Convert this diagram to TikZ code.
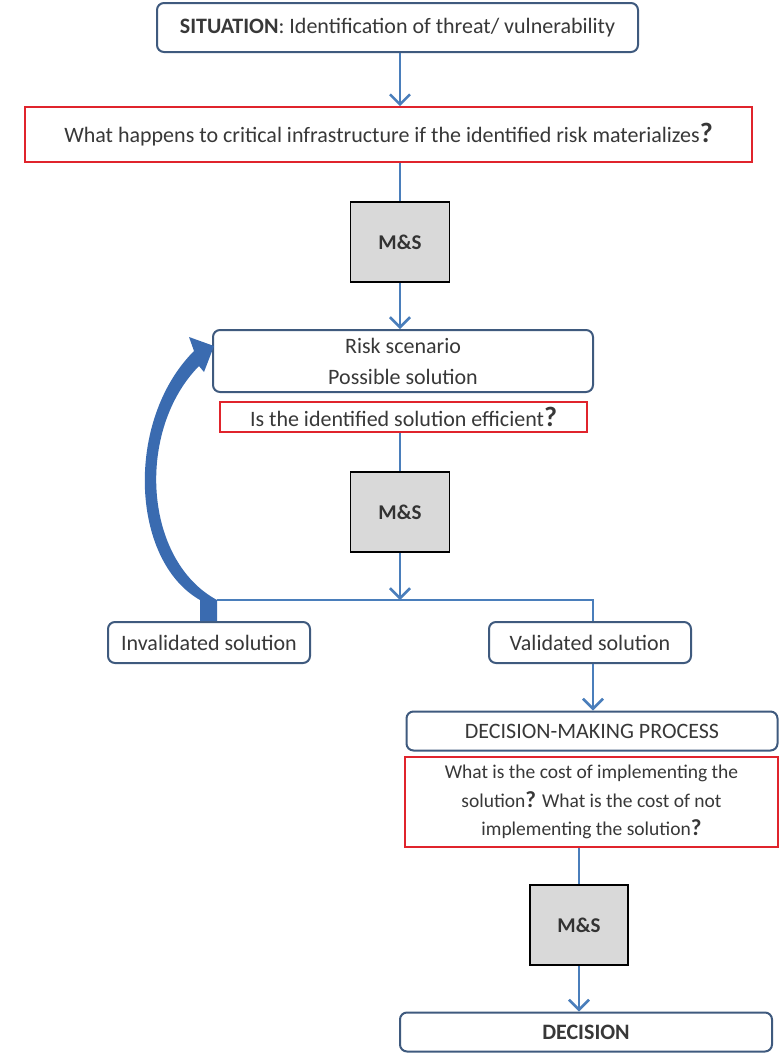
\documentclass[tikz,border=0pt]{standalone}
\usepackage{fontspec}
\setmainfont{Carlito}
\usetikzlibrary{arrows.meta,calc}
\definecolor{boxline}{HTML}{3F5A7E}
\definecolor{qred}{HTML}{E0242C}
\definecolor{arrblue}{HTML}{4A7EBB}
\definecolor{bigblue}{HTML}{3A6BB0}
\definecolor{msgray}{HTML}{D9D9D9}
\newcommand{\qm}{\textbf{\fontsize{28}{28}\selectfont ?}}
\newcommand{\qs}{\textbf{\fontsize{23}{23}\selectfont ?}}
\begin{document}
\begin{tikzpicture}[x=1pt,y=-1pt,
  font=\fontsize{22}{31}\selectfont,
  rbox/.style={draw=boxline,line width=2pt,rounded corners=7pt,fill=white,align=center,inner sep=0pt,text=black!78},
  qbox/.style={draw=qred,line width=1.6pt,fill=white,align=center,inner sep=0pt,text=black!78},
  msbox/.style={draw=black,line width=1.8pt,fill=msgray,inner sep=0pt,minimum width=99pt,minimum height=80pt,font=\fontsize{21}{24}\selectfont\bfseries,text=black!80},
  conn/.style={draw=arrblue,line width=2.6pt},
  arr/.style={conn,-{Straight Barb[length=10pt,width=20pt,line width=2.6pt]}}]
\useasboundingbox (0,0) rectangle (780,1055);

\node[rbox,minimum width=481pt,minimum height=49pt] (sit) at (397.5,27.5) {\textbf{SITUATION}: Identification of threat/ vulnerability};
\node[qbox,minimum width=727pt,minimum height=55pt] (q1) at (388.5,134.5) {What happens to critical infrastructure if the identified risk materializes\qm};
\node[msbox] (ms1) at (400,242) {M\&S};
\node[rbox,minimum width=380pt,minimum height=62pt] (risk) at (403,361) {Risk scenario\\Possible solution};
\node[qbox,minimum width=367pt,minimum height=30pt] (q2) at (403.5,417) {Is the identified solution efficient\qm};
\node[msbox] (ms2) at (400,512) {M\&S};
\node[rbox,minimum width=202pt,minimum height=41pt] (inv) at (209,642.5) {Invalidated solution};
\node[rbox,minimum width=202pt,minimum height=41pt] (val) at (590,642.5) {Validated solution};
\node[rbox,minimum width=371pt,minimum height=39pt] (dmp) at (592,731) {DECISION-MAKING PROCESS};
\node[qbox,minimum width=373pt,minimum height=90pt,font=\fontsize{19.5}{28.5}\selectfont] (q3) at (591.5,802) {What is the cost of implementing the\\solution\qs{} What is the cost of not\\implementing the solution\qs};
\node[msbox,minimum width=98pt] (ms3) at (579,925) {M\&S};
\node[rbox,minimum width=372pt,minimum height=39pt] (dec) at (586,1032) {\textbf{DECISION}};

\coordinate (jn) at (400,600);
\coordinate (jl) at (217,600);
\coordinate (jr) at (593,600);

\draw[arr] (sit.south -| ms1) -- (q1.north -| ms1);
\draw[conn] (q1.south -| ms1) -- (ms1.north);
\draw[arr] (ms1.south) -- (risk.north -| ms1);
\draw[conn] (q2.south -| ms2) -- (ms2.north);
\draw[arr] (ms2.south) -- (jn);
\draw[conn] (jl) -- (jr) -- (val.north -| jr);
\draw[arr] (val.south -| jr) -- (dmp.north -| jr);
\draw[conn] (q3.south -| ms3) -- (ms3.north);
\draw[arr] (ms3.south) -- (dec.north -| ms3);

% thick curved return arrow
\fill[bigblue] (217,621) -- (217,600)
  .. controls (143,560) and (136,430) .. (199,366)
  -- (204,372) -- (214,346) -- (189,337) -- (194,351)
  .. controls (125,420) and (130,560) .. (200,600)
  -- (200,621) -- cycle;
\end{tikzpicture}
\end{document}
